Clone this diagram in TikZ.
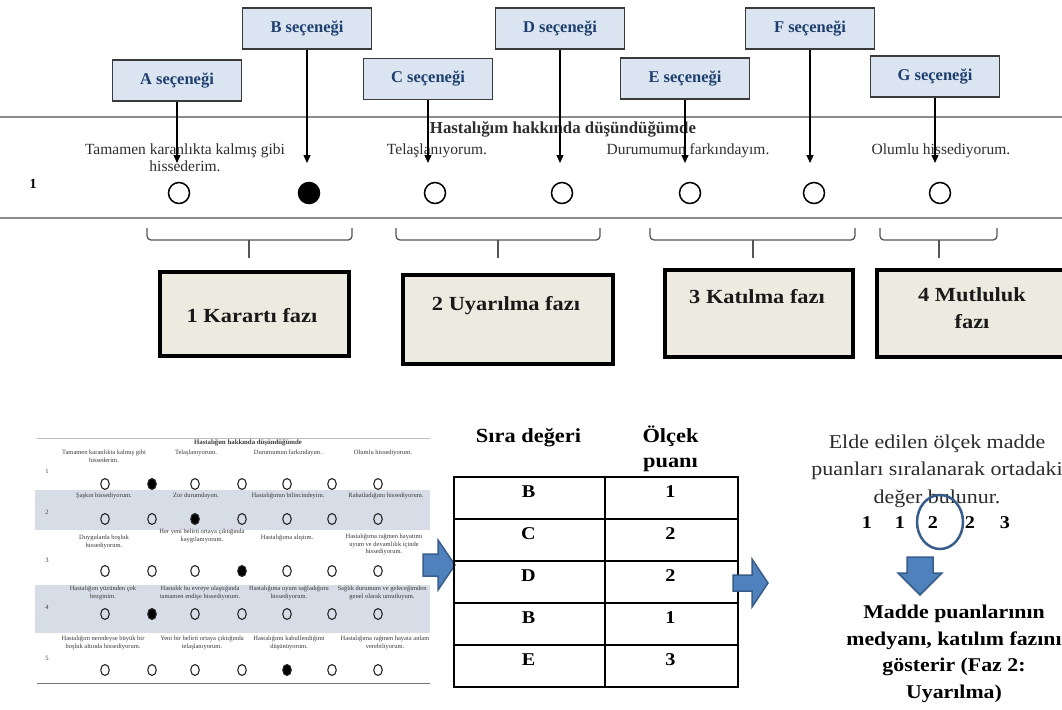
\documentclass[tikz,border=0pt]{standalone}
\usepackage{fontspec}
\setmainfont{Liberation Serif}
\newfontfamily\gar[FakeStretch=1.12]{Liberation Serif}
\usetikzlibrary{arrows.meta,shapes.geometric}
\definecolor{optfill}{HTML}{DBE5F1}
\definecolor{optborder}{HTML}{3A3A3A}
\definecolor{opttext}{HTML}{1F3F6F}
\definecolor{phasefill}{HTML}{EDEBE0}
\definecolor{rulecol}{HTML}{8C8C8C}
\definecolor{bracecol}{HTML}{555555}
\definecolor{bodytext}{HTML}{2E2E2E}
\definecolor{band}{HTML}{D6DDE6}
\definecolor{thumbtext}{HTML}{3A3A3A}
\definecolor{bluefill}{HTML}{4F81BD}
\definecolor{blueedge}{HTML}{385D8A}
\definecolor{righttext}{HTML}{2B2B2B}
\begin{document}
\begin{tikzpicture}[x=1pt,y=-1pt,
  optbox/.style={draw=optborder, fill=optfill, line width=1.4pt, minimum width=129pt, minimum height=41pt, inner sep=0pt, text=opttext, font=\fontsize{16.5}{19}\selectfont\bfseries},
  optarrow/.style={-{Triangle[length=8pt,width=7pt]}, line width=1.3pt},
  radio/.style={circle, draw, line width=1.5pt, minimum size=21pt, inner sep=0pt},
  body/.style={font=\fontsize{15.5}{16.5}\selectfont, text=bodytext, align=center, inner sep=0pt, anchor=base},
  brace/.style={draw=bracecol, line width=1.3pt, rounded corners=4pt},
  phasebox/.style={draw=black, fill=phasefill, line width=3.5pt, inner sep=0pt, anchor=north west},
  phasetext/.style={font=\gar\bfseries\fontsize{20}{27}\selectfont, align=center, inner sep=0pt, text=black!90, anchor=base},
  tt/.style={font=\fontsize{6.5}{7.5}\selectfont, text=thumbtext, align=center, inner sep=0pt, anchor=north},
  tdot/.style={ellipse, draw=black!85, line width=1.1pt, minimum width=8.5pt, minimum height=11pt, inner sep=0pt},
  cell/.style={draw, line width=1.6pt, minimum height=42pt, inner sep=0pt, anchor=north west},
  celltext/.style={font=\gar\bfseries\fontsize{18}{20}\selectfont, inner sep=0pt},
  headtext/.style={font=\gar\bfseries\fontsize{20}{25}\selectfont, align=center, inner sep=0pt, anchor=base},
  bluearrow/.style={fill=bluefill, draw=blueedge, line width=1.5pt, line join=miter},
  numtext/.style={font=\gar\bfseries\fontsize{18}{20}\selectfont, inner sep=0pt, anchor=base}
]
\useasboundingbox (0,0) rectangle (1062,709);
\clip (0,0) rectangle (1062,709);
\fill[white] (0,0) rectangle (1062,709);

% ---------- top: questionnaire row ----------
\draw[rulecol, line width=1.5pt] (0,117) -- (1062,117);
\draw[rulecol, line width=1.5pt] (0,218) -- (1062,218);

\node[font=\bfseries\fontsize{16.8}{18}\selectfont, text=bodytext, anchor=base] (hdr) at (563,133) {Hastalığım hakkında düşündüğümde};
\node[font=\bfseries\fontsize{14}{16}\selectfont, anchor=base] (rowone) at (33,188) {1};

\node[body] (tA) at (185,171) {Tamamen karanlıkta kalmış gibi\\hissederim.};
\node[body] (tC) at (437,154) {Telaşlanıyorum.};
\node[body] (tE) at (688,154) {Durumumun farkındayım.};
\node[body] (tG) at (941,154) {Olumlu hissediyorum.};

\node[radio] (c1) at (179,193) {};
\node[radio, fill=black] (c2) at (309,193) {};
\node[radio] (c3) at (435,193) {};
\node[radio] (c4) at (562,193) {};
\node[radio] (c5) at (690,193) {};
\node[radio] (c6) at (814,193) {};
\node[radio] (c7) at (940,193) {};

\node[optbox] (A) at (177,80.5) {A seçeneği};
\node[optbox] (B) at (307,28.5) {B seçeneği};
\node[optbox] (C) at (428,79) {C seçeneği};
\node[optbox] (D) at (560,28.5) {D seçeneği};
\node[optbox] (E) at (685,78.5) {E seçeneği};
\node[optbox] (F) at (810,28.5) {F seçeneği};
\node[optbox] (G) at (935,76.5) {G seçeneği};

\coordinate (tipline) at (0,163);
\foreach \n in {A,B,C,D,E,F,G} {
  \draw[optarrow] (\n.south) -- (\n.south |- tipline);
}

% ---------- braces ----------
\draw[brace] (147,228) -- (147,240) -- (352,240) -- (352,228);
\draw[bracecol, line width=1.3pt] (249,240) -- (249,258);
\draw[brace] (396,228) -- (396,240) -- (600,240) -- (600,228);
\draw[bracecol, line width=1.3pt] (498,240) -- (498,258);
\draw[brace] (650,228) -- (650,240) -- (855,240) -- (855,228);
\draw[bracecol, line width=1.3pt] (753,240) -- (753,258);
\draw[brace] (880,228) -- (880,240) -- (997,240) -- (997,228);
\draw[bracecol, line width=1.3pt] (939,240) -- (939,258);

% ---------- phase boxes ----------
\node[phasebox, minimum width=189pt, minimum height=84pt] (p1) at (158,270) {};
\node[phasebox, minimum width=210pt, minimum height=89pt] (p2) at (401,273) {};
\node[phasebox, minimum width=188pt, minimum height=87pt] (p3) at (663,268) {};
\node[phasebox, minimum width=220pt, minimum height=87pt] (p4) at (875,268) {};
\node[phasetext] (p1t) at (252,322) {1 Karartı fazı};
\node[phasetext] (p2t) at (506,310) {2 Uyarılma fazı};
\node[phasetext] (p3t) at (757,303) {3 Katılma fazı};
\node[phasetext] (p4t) at (972,328) {4 Mutluluk\\fazı};

% ---------- thumbnail of the scale ----------
\fill[band] (35,490) rectangle (430,530);
\fill[band] (35,585) rectangle (430,633);
\draw[black!25, line width=0.8pt] (37,438) -- (430,438);
\draw[black!55, line width=0.9pt] (37,683) -- (430,683);
\node[font=\bfseries\fontsize{6.8}{8}\selectfont, text=thumbtext, inner sep=0pt] (th) at (248,443) {Hastalığım hakkında düşündüğümde};
\foreach \r/\y in {1/471,2/512,3/560,4/607,5/658} {
  \node[font=\fontsize{6.5}{8}\selectfont, text=thumbtext, inner sep=0pt] (tn\r) at (47,\y) {\r};
}
\foreach \r/\y/\f in {1/484/2, 2/519/3, 3/571/4, 4/614/2, 5/670/5} {
  \foreach \x [count=\c] in {105,152,195,242,287,332,378} {
    \ifnum\c=\f
      \node[tdot, fill=black] (t\r\c) at (\x,\y) {};
    \else
      \node[tdot] (t\r\c) at (\x,\y) {};
    \fi
  }
}
\node[tt] (o11) at (104,450) {Tamamen karanlıkta kalmış gibi\\hissederim.};
\node[tt] (o12) at (196,450) {Telaşlanıyorum.};
\node[tt] (o13) at (288,450) {Durumumun farkındayım.};
\node[tt] (o14) at (383,450) {Olumlu hissediyorum.};
\node[tt] (o21) at (104,493) {Şaşkın hissediyorum.};
\node[tt] (o22) at (196,493) {Zor durumdayım.};
\node[tt] (o23) at (288,493) {Hastalığımın bilincindeyim.};
\node[tt] (o24) at (386,493) {Rahatladığımı hissediyorum.};
\node[tt] (o31) at (104,535) {Duygularda boşluk\\hissediyorum.};
\node[tt] (o32) at (202,529) {Her yeni belirti ortaya çıktığında\\kaygılanıyorum.};
\node[tt] (o33) at (287,535) {Hastalığıma alıştım.};
\node[tt] (o34) at (384,534) {Hastalığıma rağmen hayatımı\\uyum ve devamlılık içinde\\hissediyorum.};
\node[tt] (o41) at (103,586) {Hastalığım yüzünden çok\\bezginim.};
\node[tt] (o42) at (200,586) {Hastalık bu evreye ulaştığında\\tamamen endişe hissediyorum.};
\node[tt] (o43) at (289,586) {Hastalığıma uyum sağladığımı\\hissediyorum.};
\node[tt] (o44) at (382,586) {Sağlık durumum ve geleceğimden\\genel olarak umutluyum.};
\node[tt] (o51) at (103,636) {Hastalığım neredeyse büyük bir\\boşluk altında hissediyorum.};
\node[tt] (o52) at (202,636) {Yeni bir belirti ortaya çıktığında\\telaşlanıyorum.};
\node[tt] (o53) at (289,636) {Hastalığımı kabullendiğimi\\düşünüyorum.};
\node[tt] (o54) at (385,636) {Hastalığıma rağmen hayata anlam\\verebiliyorum.};

% ---------- arrow 1 ----------
\draw[bluearrow] (423,554) -- (438,554) -- (438,540) -- (455,565) -- (438,590) -- (438,576) -- (423,576) -- cycle;

% ---------- table ----------
\node[headtext] (h1) at (528.5,442) {Sıra değeri};
\node[headtext] (h2) at (670.5,467) {Ölçek\\puanı};
\foreach \r/\top/\a/\b in {1/476/B/1, 2/518/C/2, 3/560/D/2, 4/602/B/1, 5/644/E/3} {
  \node[cell, minimum width=151pt] (l\r) at (453,\top) {};
  \node[cell, minimum width=133pt] (r\r) at (604,\top) {};
  \node[celltext] (lt\r) at (528.5,\top+16) {\a};
  \node[celltext] (rt\r) at (670.5,\top+16) {\b};
}

% ---------- arrow 2 ----------
\draw[bluearrow] (733,575) -- (752,575) -- (752,559) -- (768,583) -- (752,607) -- (752,591) -- (733,591) -- cycle;

% ---------- right text ----------
\node[font=\gar\fontsize{19.6}{27.5}\selectfont, text=righttext, align=center, inner sep=0pt, anchor=base] (rt) at (937,503) {Elde edilen ölçek madde\\puanları sıralanarak ortadaki\\değer bulunur.};
\node[numtext] (n1) at (867,528) {1};
\node[numtext] (n2) at (900,528) {1};
\node[numtext] (n3) at (933,528) {2};
\node[numtext] (n4) at (970,528) {2};
\node[numtext] (n5) at (1005,528) {3};
\draw[blueedge, line width=2.5pt] (940,522) ellipse [x radius=23, y radius=27];

% ---------- arrow 3 (down) ----------
\draw[bluearrow] (907,557) -- (933,557) -- (933,573) -- (942,573) -- (920,595) -- (898,573) -- (907,573) -- cycle;

\node[font=\gar\bfseries\fontsize{19.5}{26.5}\selectfont, align=center, inner sep=0pt, anchor=base] (res) at (954,698) {Madde puanlarının\\medyanı, katılım fazını\\gösterir (Faz 2:\\Uyarılma)};
\end{tikzpicture}
\end{document}
